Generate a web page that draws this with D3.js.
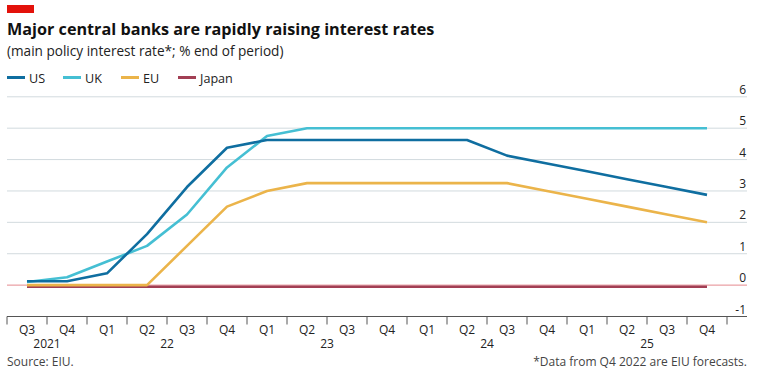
<!DOCTYPE html>
<html><head><meta charset="utf-8">
<script src="https://cdn.jsdelivr.net/npm/d3@7"></script>
<style>
body{margin:0;background:#fff;}
svg text{font-family:"Open Sans",sans-serif;}
</style></head>
<body><svg id="c" width="773" height="380"></svg>
<script>
const quarters = ["Q3","Q4","Q1","Q2","Q3","Q4","Q1","Q2","Q3","Q4","Q1","Q2","Q3","Q4","Q1","Q2","Q3","Q4"];
const years = [{label:"2021", from:0, to:2},{label:"22", from:2, to:6},{label:"23", from:6, to:10},{label:"24", from:10, to:14},{label:"25", from:14, to:18}];
const us    = [0.125,0.125,0.375,1.625,3.125,4.375,4.625,4.625,4.625,4.625,4.625,4.625,4.125,3.875,3.625,3.375,3.125,2.875];
const uk    = [0.1,0.25,0.75,1.25,2.25,3.75,4.75,5,5,5,5,5,5,5,5,5,5,5];
const eu    = [0,0,0,0,1.25,2.5,3,3.25,3.25,3.25,3.25,3.25,3.25,3,2.75,2.5,2.25,2];
const japan = [-0.05,-0.05,-0.05,-0.05,-0.05,-0.05,-0.05,-0.05,-0.05,-0.05,-0.05,-0.05,-0.05,-0.05,-0.05,-0.05,-0.05,-0.05];
const yTicks = [-1,0,1,2,3,4,5,6];
const seriesNames = ["US","UK","EU","Japan"];
const colors = ["#0f6ea0","#45bfd3","#ebb44a","#a23f54"];

const svg = d3.select("#c");
const x0 = 7, x1 = 727, gridRight = 747;
const x = d3.scaleBand().domain(d3.range(quarters.length)).range([x0, x1]);
const y = d3.scaleLinear().domain([-1, 6]).range([316.5, 96.8]);

// red tag
svg.append("rect").attr("x",7).attr("y",5).attr("width",27).attr("height",8).attr("fill","#e3120b");
svg.append("text").attr("x",7).attr("y",35).attr("font-size",16.2).attr("font-weight",700).attr("fill","#111")
  .text("Major central banks are rapidly raising interest rates");
svg.append("text").attr("x",7).attr("y",56).attr("font-size",13.6).attr("fill","#222")
  .text("(main policy interest rate*; % end of period)");

// legend
const legX = [7,63,121,178];
seriesNames.forEach((n,i)=>{
  svg.append("line").attr("x1",legX[i]).attr("x2",legX[i]+18).attr("y1",77.5).attr("y2",77.5)
    .attr("stroke",colors[i]).attr("stroke-width",3);
  svg.append("text").attr("x",legX[i]+22).attr("y",82.5).attr("font-size",12.6).attr("fill","#222").text(n);
});

// gridlines
const grid = svg.append("g");
yTicks.filter(t=>t>-1).forEach(t=>{
  grid.append("line").attr("x1",x0).attr("x2",gridRight).attr("y1",y(t)).attr("y2",y(t))
    .attr("stroke", t===0 ? "#e58a8f" : "#d2dade").attr("stroke-width",1);
});
yTicks.forEach(t=>{
  svg.append("text").attr("x",gridRight-1).attr("y",y(t)-3).attr("text-anchor","end")
    .attr("font-size",12).attr("fill","#222").text(t);
});

// x axis
const axisY = y(-1);
svg.append("line").attr("x1",x0).attr("x2",gridRight).attr("y1",axisY).attr("y2",axisY).attr("stroke","#555").attr("stroke-width",1);
d3.range(quarters.length+1).forEach(i=>{
  const tx = x0 + i*x.bandwidth();
  svg.append("line").attr("x1",tx).attr("x2",tx).attr("y1",axisY).attr("y2",axisY+8).attr("stroke","#555").attr("stroke-width",1);
});
quarters.forEach((q,i)=>{
  svg.append("text").attr("x",x(i)+x.bandwidth()/2).attr("y",axisY+17).attr("text-anchor","middle")
    .attr("font-size",12).attr("fill","#222").text(q);
});
years.forEach(yr=>{
  const cx = x0 + (yr.from+yr.to)/2*x.bandwidth();
  svg.append("text").attr("x",cx).attr("y",axisY+31.5).attr("text-anchor","middle")
    .attr("font-size",12).attr("fill","#222").text(yr.label);
});

// lines
const line = d3.line().x((d,i)=>x(i)+x.bandwidth()/2).y(d=>y(d));
[japan, eu, uk, us].forEach((s,k)=>{
  const ci = [3,2,1,0][k];
  svg.append("path").attr("d",line(s)).attr("fill","none").attr("stroke",colors[ci])
    .attr("stroke-width",2.6).attr("stroke-linejoin","round");
});

// footer
svg.append("text").attr("x",7).attr("y",366).attr("font-size",12).attr("fill","#444").text("Source: EIU.");
svg.append("text").attr("x",gridRight).attr("y",366).attr("text-anchor","end").attr("font-size",12).attr("fill","#444")
  .text("*Data from Q4 2022 are EIU forecasts.");
</script></body></html>
